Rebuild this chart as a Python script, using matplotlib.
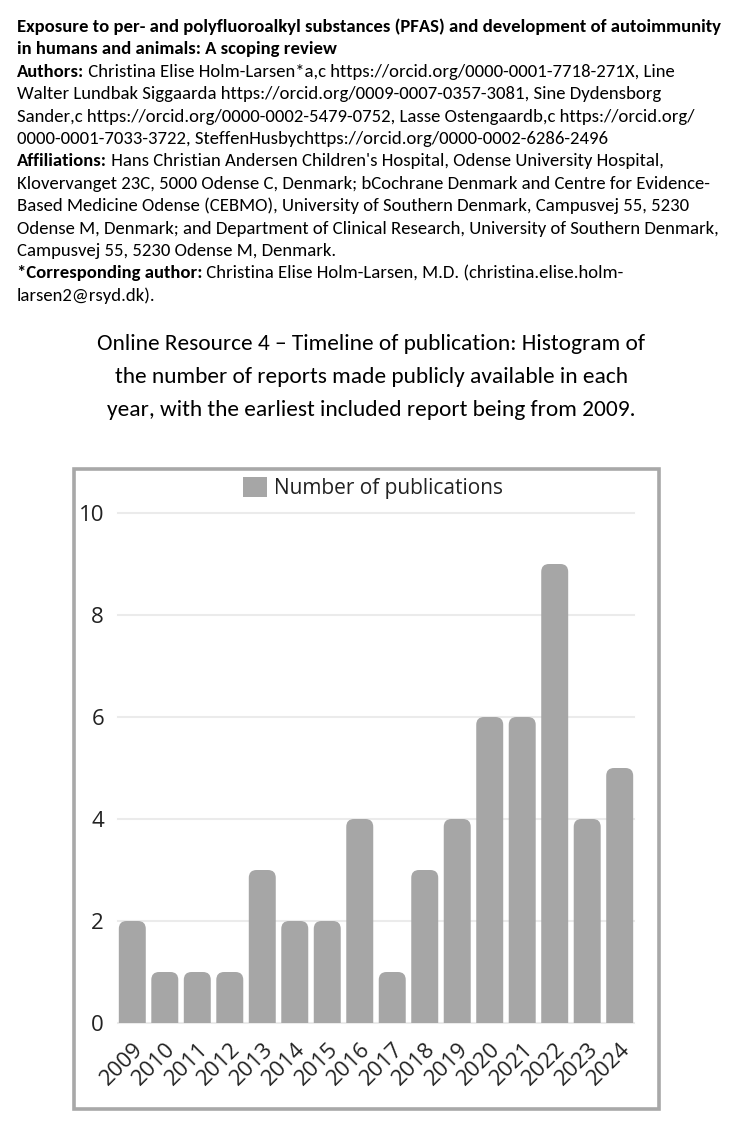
import matplotlib
matplotlib.use("Agg")
import matplotlib.pyplot as plt
from matplotlib.patches import FancyBboxPatch, Rectangle, Patch
import numpy as np

# data
years = ["2009", "2010", "2011", "2012", "2013", "2014", "2015", "2016",
         "2017", "2018", "2019", "2020", "2021", "2022", "2023", "2024"]
counts = [2, 1, 1, 1, 3, 2, 2, 4, 1, 3, 4, 6, 6, 9, 4, 5]
yticks = [0, 2, 4, 6, 8, 10]
legend_label = "Number of publications"

header_lines = [
    ("Exposure to per- and polyfluoroalkyl substances (PFAS) and development of autoimmunity", ""),
    ("in humans and animals: A scoping review", ""),
    ("Authors:", " Christina Elise Holm-Larsen*a,c https://orcid.org/0000-0001-7718-271X, Line"),
    ("", "Walter Lundbak Siggaarda https://orcid.org/0009-0007-0357-3081, Sine Dydensborg"),
    ("", "Sander,c https://orcid.org/0000-0002-5479-0752, Lasse Ostengaardb,c https://orcid.org/"),
    ("", "0000-0001-7033-3722, SteffenHusbychttps://orcid.org/0000-0002-6286-2496"),
    ("Affiliations:", " Hans Christian Andersen Children's Hospital, Odense University Hospital,"),
    ("", "Klovervanget 23C, 5000 Odense C, Denmark; bCochrane Denmark and Centre for Evidence-"),
    ("", "Based Medicine Odense (CEBMO), University of Southern Denmark, Campusvej 55, 5230"),
    ("", "Odense M, Denmark; and Department of Clinical Research, University of Southern Denmark,"),
    ("", "Campusvej 55, 5230 Odense M, Denmark."),
    ("*Corresponding author:", " Christina Elise Holm-Larsen, M.D. (christina.elise.holm-"),
    ("", "larsen2@rsyd.dk)."),
]
caption_lines = [
    "Online Resource 4 \u2013 Timeline of publication: Histogram of",
    "the number of reports made publicly available in each",
    "year, with the earliest included report being from 2009.",
]

W, H = 729, 1142
doc_font = ["Carlito", "Lato", "DejaVu Sans"]
chart_font = ["Open Sans", "DejaVu Sans"]
bar_color = "#a6a6a6"
text_color = "#222222"

fig = plt.figure(figsize=(W / 100, H / 100), dpi=100)
renderer = fig.canvas.get_renderer()


def fx(px):
    return px / W


def fy(py):
    return 1 - py / H


def width_of(t):
    return t.get_window_extent(renderer).width


# font sizes fitted to line widths in the reference
probe = fig.text(0, 0, header_lines[0][0], fontsize=12, weight="bold", family=doc_font)
bold_fs = 12 * 698 / width_of(probe)
probe.remove()
probe = fig.text(0, 0, header_lines[9][1], fontsize=12, family=doc_font)
reg_fs = 12 * 699 / width_of(probe)
probe.remove()

x0 = 17
for i, (b, r) in enumerate(header_lines):
    yb = fy(32 + 22.4 * i)
    xx = x0
    if b:
        t = fig.text(fx(xx), yb, b, fontsize=bold_fs, weight="bold", family=doc_font,
                     va="baseline", ha="left")
        xx += width_of(t)
    if r:
        fig.text(fx(xx), yb, r, fontsize=reg_fs, family=doc_font, va="baseline", ha="left")

probe = fig.text(0, 0, caption_lines[0], fontsize=12, family=doc_font)
cap_fs = 12 * 549 / width_of(probe)
probe.remove()
for i, line in enumerate(caption_lines):
    fig.text(fx(371), fy(350 + 33 * i), line, fontsize=cap_fs, family=doc_font,
             va="baseline", ha="center")

# frame round the chart
fig.patches.append(Rectangle((fx(73.5), fy(1109)), fx(659) - fx(73.5), fy(468.5) - fy(1109),
                             transform=fig.transFigure, fill=False, ec="#a8a8a8", lw=2.6))

ax = fig.add_axes([fx(118), fy(1023), fx(634) - fx(118), fy(513) - fy(1023)])
x = np.arange(len(years))
bars = ax.bar(x, counts, width=0.83, color=bar_color, zorder=2)
for r in bars:
    r.set_visible(False)
    ax.add_patch(FancyBboxPatch((r.get_x(), -0.5), r.get_width(), r.get_height() + 0.5,
                                boxstyle="round,pad=0,rounding_size=0.24",
                                mutation_aspect=0.64, fc=bar_color, ec="none", zorder=2))

ax.set_xlim(-0.44, len(years) - 1 + 0.44)
ax.set_ylim(0, 10)
ax.set_yticks(yticks)
ax.set_xticks(x)
ax.set_xticklabels(years, rotation=45, ha="right", va="top", rotation_mode="anchor",
                   family=chart_font, fontsize=16, color=text_color)
ax.set_yticklabels([str(v) for v in yticks], family=chart_font, fontsize=16, color=text_color)
ax.tick_params(axis="both", length=0)
ax.tick_params(axis="y", pad=10)
ax.tick_params(axis="x", pad=11)
ax.grid(axis="y", color="#ebebeb", lw=1.5, zorder=0)
for gl in ax.get_ygridlines():
    gl.set_clip_on(False)
ax.set_axisbelow(True)
for s in ax.spines.values():
    s.set_visible(False)

ax.legend(handles=[Patch(fc=bar_color, ec="none")], labels=[legend_label],
          loc="center", bbox_to_anchor=(fx(373), fy(488)), bbox_transform=fig.transFigure,
          frameon=False, prop={"family": chart_font, "size": 15},
          labelcolor=text_color, handlelength=1.15, handleheight=1.1,
          handletextpad=0.35, borderpad=0)

fig.savefig("out.png", dpi=100)
